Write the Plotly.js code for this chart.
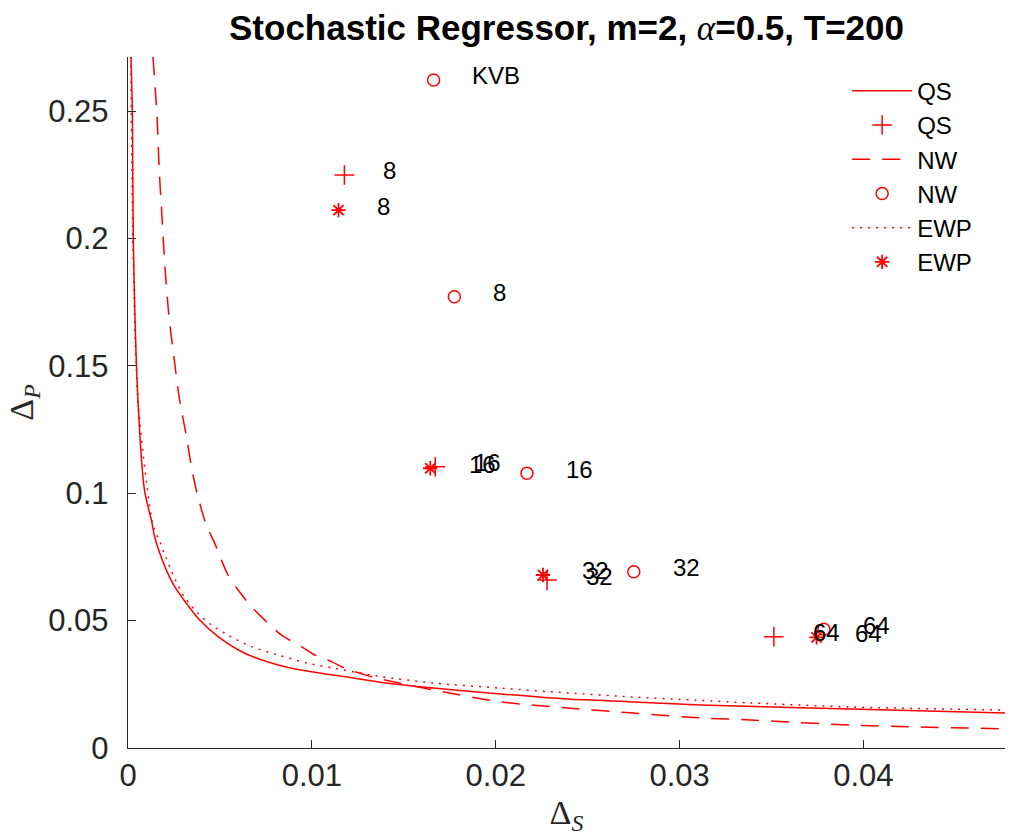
<!DOCTYPE html>
<html>
<head>
<meta charset="utf-8">
<script src="https://cdn.plot.ly/plotly-3.0.1.min.js"></script>
<style>html,body{margin:0;padding:0;background:#fff;}#chart{width:1013px;height:836px;}</style>
</head>
<body>
<div id="chart"></div>
<script>
// ---- Data ----
// Frontier curves (Delta_S, Delta_P)
var qsCurveX = [0.00016, 0.00024, 0.00029, 0.00054, 0.00090, 0.00127, 0.00145, 0.00173, 0.00208, 0.00254, 0.00317, 0.00390, 0.00490, 0.00635, 0.00817, 0.00998, 0.01180, 0.01416, 0.0166, 0.02025, 0.0239, 0.0275, 0.0311, 0.0393, 0.04774];
var qsCurveY = [0.2712, 0.249, 0.1994, 0.1366, 0.1010, 0.0895, 0.0829, 0.0764, 0.0699, 0.0633, 0.0568, 0.0502, 0.0437, 0.0372, 0.0326, 0.0299, 0.0280, 0.0254, 0.0235, 0.0212, 0.0192, 0.0181, 0.0169, 0.0153, 0.0137];

var nwCurveX = [0.00136, 0.00158, 0.00169, 0.00185, 0.00201, 0.00223, 0.00245, 0.00278, 0.00294, 0.00321, 0.00348, 0.00381, 0.00426, 0.00472, 0.00508, 0.00544, 0.00599, 0.00671, 0.00744, 0.00835, 0.00943, 0.01016, 0.01107, 0.01180, 0.01289, 0.01379, 0.0166, 0.02025, 0.0239, 0.0275, 0.03114, 0.03386, 0.0393, 0.04774];
var nwCurveY = [0.2712, 0.2476, 0.2280, 0.2084, 0.1888, 0.1692, 0.1562, 0.1378, 0.1315, 0.1209, 0.1091, 0.0985, 0.0875, 0.0803, 0.0738, 0.0679, 0.0620, 0.0555, 0.0502, 0.0443, 0.0398, 0.0365, 0.0339, 0.0313, 0.0287, 0.0270, 0.0228, 0.0181, 0.0157, 0.0137, 0.0118, 0.0110, 0.0090, 0.0075];

var ewpCurveX = [0.00016, 0.00027, 0.00054, 0.00103, 0.00136, 0.00173, 0.00208, 0.00254, 0.00309, 0.00381, 0.00453, 0.00544, 0.00671, 0.00817, 0.00980, 0.01125, 0.01270, 0.01379, 0.0166, 0.02025, 0.0239, 0.0275, 0.0308, 0.03386, 0.0393, 0.04774];
var ewpCurveY = [0.2712, 0.1994, 0.1366, 0.1030, 0.0875, 0.0810, 0.0745, 0.0665, 0.0590, 0.0529, 0.0483, 0.0443, 0.0398, 0.0365, 0.0332, 0.0313, 0.0293, 0.0280, 0.0255, 0.0235, 0.0216, 0.0200, 0.0188, 0.0177, 0.0161, 0.0149];

// Kernel points, labelled by bandwidth
var bandLabels = ["8", "16", "32", "64"];
var qsPtsX  = [0.01177, 0.01671, 0.02279, 0.03513];
var qsPtsY  = [0.2249, 0.1104, 0.0659, 0.0437];
var nwPtsX  = [0.01775, 0.02170, 0.02751, 0.03785];
var nwPtsY  = [0.1771, 0.1078, 0.0692, 0.0466];
var ewpPtsX = [0.01145, 0.01644, 0.02257, 0.03745];
var ewpPtsY = [0.2111, 0.1098, 0.0679, 0.0434];
var kvbX = [0.01662];
var kvbY = [0.2622];
var kvbLabel = ["KVB"];

var RED = '#ff0000';
var LBL_DX = 0.002, LBL_DY = 0.0016;

var traces = [
  {x: qsCurveX, y: qsCurveY, mode: 'lines', name: 'QS', line: {color: RED, width: 1.5, shape: 'spline', smoothing: 0.8}},
  {x: qsPtsX, y: qsPtsY, mode: 'markers', name: 'QS', marker: {symbol: 'cross-thin-open', size: 14, color: RED, line: {color: RED, width: 1.5}}},
  {x: nwCurveX, y: nwCurveY, mode: 'lines', name: 'NW', line: {color: RED, width: 1.5, dash: '18px,12px', shape: 'spline', smoothing: 0.8}},
  {x: nwPtsX, y: nwPtsY, mode: 'markers', name: 'NW', marker: {symbol: 'circle-open', size: 12, color: RED, line: {color: RED, width: 1.5}}},
  {x: ewpCurveX, y: ewpCurveY, mode: 'lines', name: 'EWP', line: {color: RED, width: 1.5, dash: '2px,6px', shape: 'spline', smoothing: 0.8}},
  {x: ewpPtsX, y: ewpPtsY, mode: 'markers', name: 'EWP', marker: {symbol: 'asterisk-open', size: 12, color: RED, line: {color: RED, width: 1.8}}},
  {x: kvbX, y: kvbY, mode: 'markers', name: 'KVB', showlegend: false, marker: {symbol: 'circle-open', size: 12, color: RED, line: {color: RED, width: 1.5}}}
];

var annotations = [];
function addLabels(xs, ys, labels) {
  for (var i = 0; i < xs.length; i++) {
    annotations.push({x: xs[i] + LBL_DX, y: ys[i] + LBL_DY, text: labels[i], showarrow: false,
      xanchor: 'left', yanchor: 'middle', font: {family: 'Liberation Sans, Arial, sans-serif', size: 24, color: '#000'}});
  }
}
addLabels(qsPtsX, qsPtsY, bandLabels);
addLabels(ewpPtsX, ewpPtsY, bandLabels);
addLabels(nwPtsX, nwPtsY, bandLabels);
addLabels(kvbX, kvbY, kvbLabel);

var axisFont = {family: 'Liberation Sans, Arial, sans-serif', size: 31, color: '#262626'};

var layout = {
  width: 1013, height: 836,
  paper_bgcolor: '#fff', plot_bgcolor: '#fff',
  margin: {l: 128, r: 8, t: 57, b: 88},
  title: {text: 'Stochastic Regressor, m=2, <span style="font-family:\'Liberation Serif\';font-weight:normal"><i>α</i></span>=0.5, T=200',
          font: {family: 'Liberation Sans, Arial, sans-serif', size: 35, color: '#000', weight: 'bold'},
          x: 0.5, xanchor: 'center', xref: 'paper', y: 0.967, yanchor: 'middle'},
  xaxis: {range: [0, 0.0477], tickvals: [0, 0.01, 0.02, 0.03, 0.04], ticktext: ['0', '0.01', '0.02', '0.03', '0.04'],
          ticks: 'inside', ticklen: 8, tickwidth: 1, tickcolor: '#262626', showline: true, linecolor: '#262626', linewidth: 1.2,
          showgrid: false, zeroline: false, tickfont: axisFont, ticklabelstandoff: 0,
          title: {text: 'Δ<sub><i>S</i></sub>', font: {family: 'Liberation Serif, serif', size: 34, color: '#262626'}, standoff: 8}},
  yaxis: {range: [0, 0.2712], tickvals: [0, 0.05, 0.1, 0.15, 0.2, 0.25], ticktext: ['0', '0.05', '0.1', '0.15', '0.2', '0.25'],
          ticks: 'inside', ticklen: 8, tickwidth: 1, tickcolor: '#262626', showline: true, linecolor: '#262626', linewidth: 1.2,
          showgrid: false, zeroline: false, tickfont: axisFont, ticklabelstandoff: 12,
          title: {text: 'Δ<sub><i>P</i></sub>', font: {family: 'Liberation Serif, serif', size: 34, color: '#262626'}, standoff: 4}},
  legend: {x: 0.82, y: 0.983, xanchor: 'left', yanchor: 'top', bgcolor: 'rgba(255,255,255,0)', borderwidth: 0,
           font: {family: 'Liberation Sans, Arial, sans-serif', size: 24, color: '#000'}, itemwidth: 60, tracegroupgap: 0},
  annotations: annotations,
  showlegend: true
};

Plotly.newPlot('chart', traces, layout, {staticPlot: true, displayModeBar: false});
</script>
</body>
</html>
